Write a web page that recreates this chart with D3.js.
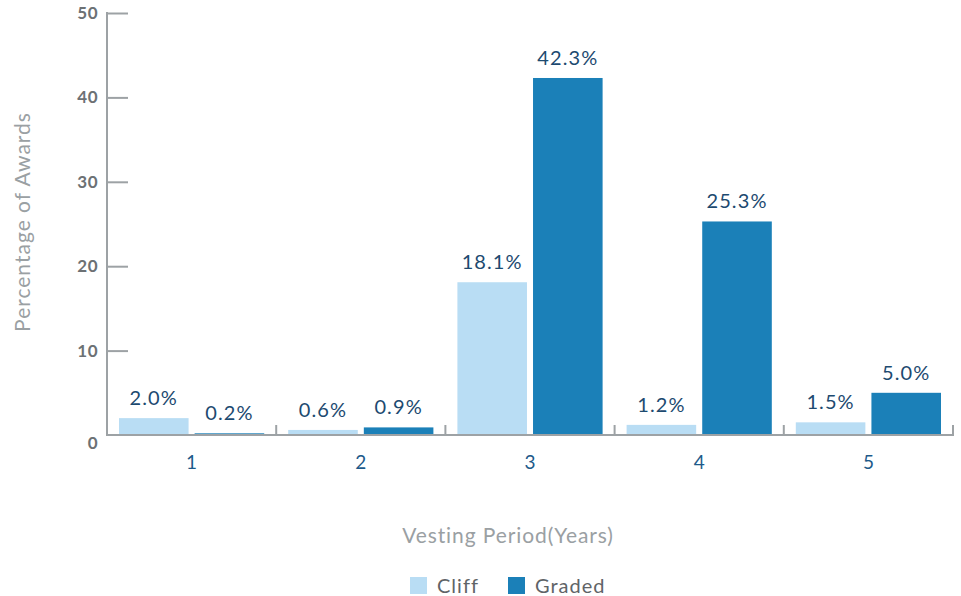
<!DOCTYPE html>
<html>
<head>
<meta charset="utf-8">
<script src="https://cdn.jsdelivr.net/npm/d3@7"></script>
<style>
  html, body { margin: 0; padding: 0; background: #fff; }
  svg { display: block; font-family: Lato, "Open Sans", sans-serif; }
</style>
</head>
<body>
<svg id="chart" width="961" height="596"></svg>
<script>
// Vesting period categories and award shares (%)
const categories = ["1", "2", "3", "4", "5"];
const seriesNames = ["Cliff", "Graded"];
const cliffValues = [2.0, 0.6, 18.1, 1.2, 1.5];
const gradedValues = [0.2, 0.9, 42.3, 25.3, 5.0];
const yTicks = [0, 10, 20, 30, 40, 50];

const colors = { Cliff: "#b9ddf4", Graded: "#1b80b8" };
const axisColor = "#9da2a5";

const svg = d3.select("#chart");
const plot = { left: 107, right: 953, top: 13, bottom: 435 };

const x = d3.scaleBand().domain(categories).range([plot.left, plot.right]).paddingInner(0).paddingOuter(0);
const inner = d3.scaleBand().domain(seriesNames).range([12, x.bandwidth() - 12]).paddingInner(0.08);
const y = d3.scaleLinear().domain([0, 50]).range([plot.bottom, plot.top]);

const rows = categories.map((c, i) => ({ cat: c, values: [
  { name: "Cliff", v: cliffValues[i] },
  { name: "Graded", v: gradedValues[i] }
]}));

// Bars
const groups = svg.append("g").selectAll("g").data(rows).join("g")
  .attr("transform", d => `translate(${x(d.cat)},0)`);

groups.selectAll("rect").data(d => d.values).join("rect")
  .attr("x", d => inner(d.name))
  .attr("width", inner.bandwidth())
  .attr("y", d => y(d.v))
  .attr("height", d => y(0) - y(d.v))
  .attr("fill", d => colors[d.name]);

// Value labels
groups.selectAll("text").data(d => d.values).join("text")
  .attr("x", d => inner(d.name) + inner.bandwidth() / 2)
  .attr("y", d => y(d.v) - 13)
  .attr("text-anchor", "middle")
  .attr("fill", "#1d4a70")
  .attr("font-size", 20)
  .attr("letter-spacing", 1.1)
  .text(d => d.v.toFixed(1) + "%");

// Y axis
const yAxis = svg.append("g").attr("transform", `translate(${plot.left},0)`)
  .call(d3.axisRight(y).tickValues(yTicks).tickSize(21).tickFormat(""));
yAxis.select(".domain").remove();
yAxis.selectAll(".tick line").attr("stroke", axisColor).attr("stroke-width", 2);
yAxis.selectAll(".tick").filter(d => d === 0).remove();
svg.append("line").attr("x1", plot.left).attr("x2", plot.left).attr("y1", plot.top - 1).attr("y2", plot.bottom + 1)
  .attr("stroke", axisColor).attr("stroke-width", 2);

svg.append("g").selectAll("text").data(yTicks).join("text")
  .attr("x", 98)
  .attr("y", d => y(d) + (d === 0 ? 14 : 6))
  .attr("text-anchor", "end")
  .attr("fill", "#6c7174")
  .attr("font-size", 17)
  .attr("font-weight", 700)
  .attr("letter-spacing", 0.5)
  .text(d => d);

// X axis baseline with category dividers
svg.append("line").attr("x1", plot.left).attr("x2", plot.right + 1).attr("y1", plot.bottom).attr("y2", plot.bottom)
  .attr("stroke", axisColor).attr("stroke-width", 2);
svg.append("g").selectAll("line").data(categories).join("line")
  .attr("x1", d => x(d) + x.bandwidth()).attr("x2", d => x(d) + x.bandwidth())
  .attr("y1", plot.bottom - 10).attr("y2", plot.bottom)
  .attr("stroke", axisColor).attr("stroke-width", 2);

const xAxis = svg.append("g").attr("transform", `translate(0,${plot.bottom})`)
  .call(d3.axisBottom(x).tickSize(0).tickPadding(21));
xAxis.select(".domain").remove();
xAxis.selectAll("text").attr("fill", "#1d5a8a").attr("font-size", 19)
  .attr("font-family", "Lato, sans-serif");

// Axis titles
svg.append("text").attr("x", 508).attr("y", 543).attr("text-anchor", "middle")
  .attr("fill", "#9aa0a3").attr("font-size", 21).attr("letter-spacing", 0.9)
  .text("Vesting Period(Years)");
svg.append("text").attr("transform", "translate(30,222) rotate(-90)").attr("text-anchor", "middle")
  .attr("fill", "#9aa0a3").attr("font-size", 21).attr("letter-spacing", 1)
  .text("Percentage of Awards");

// Legend
const legend = svg.append("g").selectAll("g").data(seriesNames).join("g")
  .attr("transform", (d, i) => `translate(${[410, 508][i]},577)`);
legend.append("rect").attr("width", 17).attr("height", 17).attr("fill", d => colors[d]);
legend.append("text").attr("x", 27).attr("y", 16).attr("fill", "#5f6467")
  .attr("font-size", 20).attr("letter-spacing", 1).text(d => d);
</script>
</body>
</html>
